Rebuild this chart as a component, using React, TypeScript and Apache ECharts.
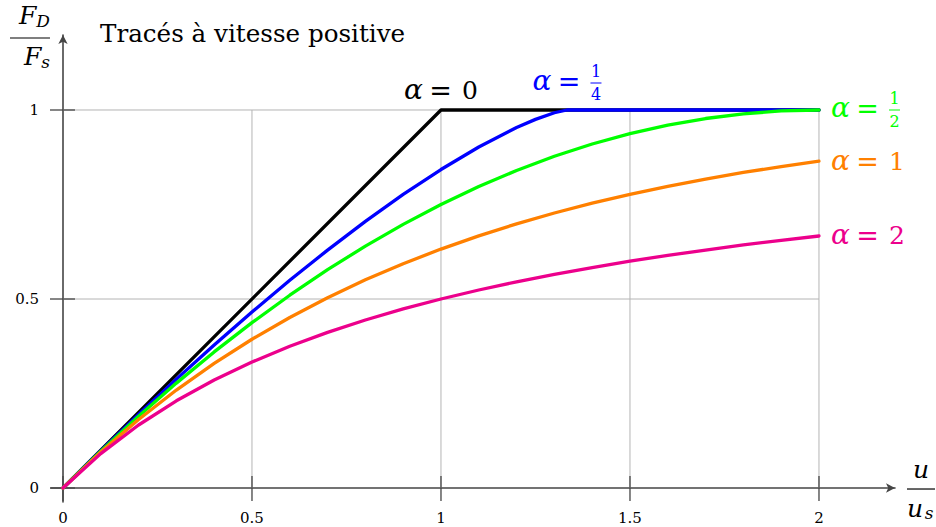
import React, { useEffect, useRef } from "react";
import * as echarts from "echarts";

// ---- data ----
const xTicks = [0, 0.5, 1, 1.5, 2];
const yTicks = [0, 0.5, 1];

const uGrid = [0, 0.1, 0.2, 0.3, 0.4, 0.5, 0.6, 0.7, 0.8, 0.9, 1.0, 1.1, 1.2, 1.3, 1.4, 1.5, 1.6, 1.7, 1.8, 1.9, 2.0];

// alpha = 0
const alphaZeroU = [0, 1, 2];
const alphaZeroF = [0, 1, 1];

// alpha = 1/4
const alphaQuarterU = [0, 0.1, 0.2, 0.3, 0.4, 0.5, 0.6, 0.7, 0.8, 0.9, 1.0, 1.1, 1.2, 1.25, 1.3, 1.3333, 2];
const alphaQuarterF = [0, 0.0987, 0.1948, 0.2881, 0.3785, 0.4656, 0.5494, 0.6294, 0.7053, 0.7766, 0.8425, 0.9021, 0.9536, 0.9752, 0.9927, 1, 1];

// alpha = 1/2
const alphaHalfF = [0, 0.0975, 0.19, 0.2775, 0.36, 0.4375, 0.51, 0.5775, 0.64, 0.6975, 0.75, 0.7975, 0.84, 0.8775, 0.91, 0.9375, 0.96, 0.9775, 0.99, 0.9975, 1];

// alpha = 1
const alphaOneF = [0, 0.0952, 0.1813, 0.2592, 0.3297, 0.3935, 0.4512, 0.5034, 0.5507, 0.5934, 0.6321, 0.6671, 0.6988, 0.7275, 0.7534, 0.7769, 0.7981, 0.8173, 0.8347, 0.8504, 0.8647];

// alpha = 2
const alphaTwoF = [0, 0.0909, 0.1667, 0.2308, 0.2857, 0.3333, 0.375, 0.4118, 0.4444, 0.4737, 0.5, 0.5238, 0.5455, 0.5652, 0.5833, 0.6, 0.6154, 0.6296, 0.6429, 0.6552, 0.6667];

const titleText = "Tracés à vitesse positive";

const SERIF = "'DejaVu Serif', 'Liberation Serif', serif";
const COLORS = {
  zero: "#000000",
  quarter: "#0000ff",
  half: "#00ff00",
  one: "#ff8000",
  two: "#ec008c",
};
const AXIS_COLOR = "#454545";

function zip(xs: number[], ys: number[]) {
  return xs.map((x, i) => [x, ys[i]]);
}

function fracRich(color: string) {
  return {
    a: { fontFamily: SERIF, fontSize: 28, fontStyle: "italic", color, lineHeight: 8, width: 19, align: "left", padding: [0, 0, 4, 0] },
    g1: { width: 6, lineHeight: 8 },
    g2: { width: 10, lineHeight: 8 },
    e: { fontFamily: SERIF, fontSize: 27, color, lineHeight: 8, width: 23, align: "center", padding: [0, 0, 2, 0] },
    s: { width: 58, lineHeight: 15 },
    n: { fontFamily: SERIF, fontSize: 16, color, lineHeight: 15, width: 11, align: "center" },
    bar: { width: 11, height: 1, backgroundColor: color, lineHeight: 8, fontSize: 1 },
  };
}

function plainRich(color: string) {
  return {
    a: { fontFamily: SERIF, fontSize: 28, fontStyle: "italic", color, width: 19, align: "left", padding: [0, 0, 2, 0] },
    g1: { width: 6 },
    g2: { width: 10 },
    e: { fontFamily: SERIF, fontSize: 27, color, width: 23, align: "center" },
    n: { fontFamily: SERIF, fontSize: 25, color },
  };
}

const fracLabel = (den: string) => `{s|}{n|1}\n{a|α}{g1|}{e|=}{g2|}{bar| }\n{s|}{n|${den}}`;
const plainLabel = (v: string) => `{a|α}{g1|}{e|=}{g2|}{n|${v}}`;

export default function App() {
  const ref = useRef<HTMLDivElement>(null);

  useEffect(() => {
    if (!ref.current) return;
    const chart = echarts.init(ref.current, null, { renderer: "svg" });

    const gridSeries: any[] = [];
    xTicks.filter((t) => t !== 0).forEach((t) => {
      gridSeries.push({
        type: "line",
        data: [[t, yTicks[0]], [t, yTicks[yTicks.length - 1]]],
        showSymbol: false,
        silent: true,
        lineStyle: { color: "#b4b4b4", width: 1 },
        z: 1,
      });
    });
    yTicks.filter((t) => t !== 0).forEach((t) => {
      gridSeries.push({
        type: "line",
        data: [[xTicks[0], t], [xTicks[xTicks.length - 1], t]],
        showSymbol: false,
        silent: true,
        lineStyle: { color: "#b4b4b4", width: 1 },
        z: 1,
      });
    });

    // tick marks crossing the axes (drawn through the axes' own scales)
    const tickSeries: any[] = [
      {
        type: "custom",
        silent: true,
        clip: false,
        z: 2,
        data: xTicks.map((t) => [t, 0]),
        renderItem: (_p: any, api: any) => {
          const c = api.coord([api.value(0), api.value(1)]);
          return {
            type: "line",
            shape: { x1: c[0], y1: c[1] - 12, x2: c[0], y2: c[1] + 13 },
            style: { stroke: AXIS_COLOR, lineWidth: 1.3 },
          };
        },
      },
      {
        type: "custom",
        silent: true,
        clip: false,
        z: 2,
        data: yTicks.map((t) => [0, t]),
        renderItem: (_p: any, api: any) => {
          const c = api.coord([api.value(0), api.value(1)]);
          return {
            type: "line",
            shape: { x1: c[0] - 13, y1: c[1], x2: c[0] + 12, y2: c[1] },
            style: { stroke: AXIS_COLOR, lineWidth: 1.3 },
          };
        },
      },
    ];

    const curve = (data: any[], color: string, extra: any = {}) => ({
      type: "line",
      data,
      showSymbol: false,
      smooth: false,
      silent: true,
      lineStyle: { color, width: 3.3, cap: "round", join: "round" },
      itemStyle: { color },
      z: 3,
      ...extra,
    });

    const axisLabelStyle = {
      fontFamily: SERIF,
      fontSize: 15,
      color: "#000",
    };

    const option: any = {
      animation: false,
      backgroundColor: "#ffffff",
      title: {
        text: titleText,
        left: 100,
        top: 21,
        padding: 0,
        textStyle: { fontFamily: SERIF, fontSize: 24.6, fontWeight: "normal", color: "#000" },
      },
      grid: {
        left: 51,
        right: 41,
        top: 35,
        bottom: 25,
        containLabel: false,
        outerBoundsMode: "none",
      },
      xAxis: {
        type: "value",
        min: -0.0317,
        max: 2.2011,
        position: "bottom",
        axisLine: {
          show: true,
          onZero: true,
          symbol: ["none", "arrow"],
          symbolSize: [7, 9],
          lineStyle: { color: AXIS_COLOR, width: 1.6 },
        },
        axisTick: { show: false },
        axisLabel: {
          show: true,
          customValues: xTicks,
          margin: 8,
          ...axisLabelStyle,
        },
        splitLine: { show: false },
        name: "{n|u}\n{bar| }\n{d|u}{sub|s}",
        nameLocation: "end",
        nameGap: 12,
        nameTextStyle: {
          align: "left",
          verticalAlign: "middle",
          rich: {
            n: { fontFamily: SERIF, fontSize: 25, fontStyle: "italic", color: "#000", width: 28, align: "center", lineHeight: 38 },
            bar: { width: 28, height: 1.2, backgroundColor: "#000", lineHeight: 2, fontSize: 1 },
            d: { fontFamily: SERIF, fontSize: 25, fontStyle: "italic", color: "#000", width: 16, align: "right", lineHeight: 36 },
            sub: { fontFamily: SERIF, fontSize: 17, fontStyle: "italic", color: "#000", width: 12, align: "left", padding: [10, 0, 0, 0] },
          },
        },
      },
      yAxis: {
        type: "value",
        min: -0.037,
        max: 1.1984,
        position: "left",
        axisLine: {
          show: true,
          onZero: true,
          symbol: ["none", "arrow"],
          symbolSize: [7, 9],
          lineStyle: { color: AXIS_COLOR, width: 1.6 },
        },
        axisTick: { show: false },
        axisLabel: {
          show: true,
          customValues: yTicks,
          margin: 12,
          ...axisLabelStyle,
        },
        splitLine: { show: false },
        name: "{n|F}{sub|D}\n{bar| }\n{m|F}{sub|s}",
        nameLocation: "end",
        nameGap: 2,
        nameTextStyle: {
          align: "right",
          verticalAlign: "middle",
          padding: [0, 13, 0, 0],
          rich: {
            n: { fontFamily: SERIF, fontSize: 25, fontStyle: "italic", color: "#000", lineHeight: 44 },
            m: { fontFamily: SERIF, fontSize: 25, fontStyle: "italic", color: "#000", lineHeight: 34 },
            sub: { fontFamily: SERIF, fontSize: 17, fontStyle: "italic", color: "#000", padding: [12, 0, 0, 0] },
            bar: { width: 40, height: 1.2, backgroundColor: "#000", lineHeight: 2, fontSize: 1 },
          },
        },
      },
      series: [
        ...gridSeries,
        ...tickSeries,
        curve(zip(alphaZeroU, alphaZeroF), COLORS.zero, {
          markPoint: {
            symbol: "circle",
            symbolSize: 0,
            silent: true,
            animation: false,
            data: [
              {
                coord: [alphaZeroU[1], alphaZeroF[1]],
                label: {
                  show: true,
                  position: "top",
                  distance: 4,
                  formatter: plainLabel("0"),
                  rich: plainRich(COLORS.zero),
                },
              },
            ],
          },
        }),
        curve(zip(alphaQuarterU, alphaQuarterF), COLORS.quarter, {
          markPoint: {
            symbol: "circle",
            symbolSize: 0,
            silent: true,
            animation: false,
            data: [
              {
                coord: [alphaQuarterU[15], alphaQuarterF[15]],
                label: {
                  show: true,
                  position: "top",
                  distance: 8,
                  formatter: fracLabel("4"),
                  rich: fracRich(COLORS.quarter),
                },
              },
            ],
          },
        }),
        curve(zip(uGrid, alphaHalfF), COLORS.half, {
          endLabel: {
            show: true,
            distance: 12,
            formatter: fracLabel("2"),
            rich: fracRich(COLORS.half),
          },
        }),
        curve(zip(uGrid, alphaOneF), COLORS.one, {
          endLabel: {
            show: true,
            distance: 12,
            formatter: plainLabel("1"),
            rich: plainRich(COLORS.one),
          },
        }),
        curve(zip(uGrid, alphaTwoF), COLORS.two, {
          endLabel: {
            show: true,
            distance: 12,
            formatter: plainLabel("2"),
            rich: plainRich(COLORS.two),
          },
        }),
      ],
    };

    chart.setOption(option);
    return () => chart.dispose();
  }, []);

  return (
    <div
      ref={ref}
      style={{ position: "fixed", left: 0, top: 0, width: 936, height: 527, background: "#fff" }}
    />
  );
}
